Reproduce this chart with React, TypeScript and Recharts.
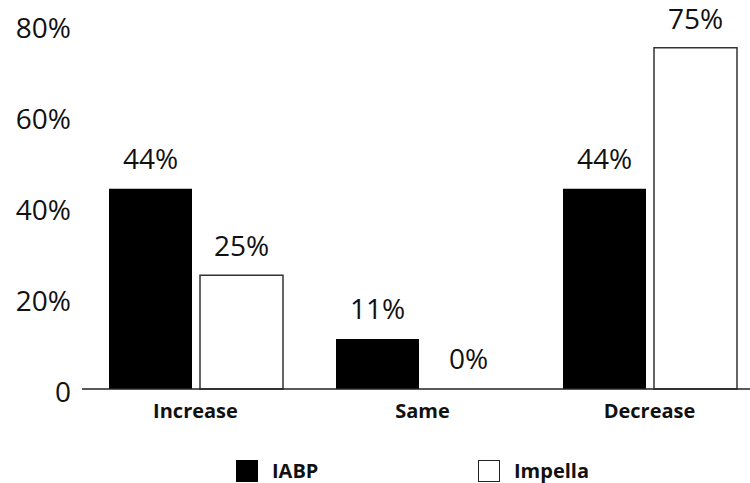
import { Bar, BarChart, LabelList, Rectangle, XAxis, YAxis } from "recharts";

const FONT = '"Open Sans", "Noto Sans", sans-serif';
const INK = "#111";

const categories = ["Increase", "Same", "Decrease"];
const iabp = [44, 11, 44];
const impella = [25, 0, 75];
const yTicks = [0, 20, 40, 60, 80];

const data = categories.map((c, i) => ({ label: c, iabp: iabp[i], impella: impella[i] }));

const legendItems = [
  { name: "IABP", fill: "#000", stroke: "#000", left: 236 },
  { name: "Impella", fill: "#fff", stroke: "#222", left: 478 },
];

const pct = (v: number) => `${v}%`;

// zero-value bars keep a 1px slot so the "0%" label is still placed, but draw nothing
function OpenBar(props: any) {
  if (!props.value) return <g />;
  return <Rectangle {...props} />;
}

export default function App() {
  return (
    <div
      style={{
        position: "absolute",
        left: 0,
        top: 0,
        width: 750,
        height: 483,
        background: "#fff",
        fontFamily: FONT,
      }}
    >
      <BarChart
        width={750}
        height={483}
        data={data}
        margin={{ top: 25, right: 0, bottom: 0, left: 0 }}
        barCategoryGap={27}
        barGap={8}
      >
        <XAxis
          dataKey="label"
          height={94}
          padding={{ left: 0, right: -13 }}
          axisLine={{ stroke: "#222", strokeWidth: 1.5 }}
          tickLine={false}
          tickMargin={9}
          tick={{ fontSize: 20, fontWeight: 700, fill: INK, fontFamily: FONT }}
        />
        <YAxis
          width={82}
          domain={[0, 80]}
          ticks={yTicks}
          axisLine={false}
          tickLine={false}
          tickMargin={5}
          tickFormatter={(v: number) => (v === 0 ? "0" : pct(v))}
          tick={{ fontSize: 28, fill: INK, fontFamily: FONT, dy: 3 }}
        />
        <Bar dataKey="iabp" name="IABP" fill="#000" isAnimationActive={false}>
          <LabelList
            dataKey="iabp"
            position="top"
            offset={20}
            formatter={pct}
            style={{ fontSize: 28, fill: INK, fontFamily: FONT }}
          />
        </Bar>
        <Bar
          dataKey="impella"
          name="Impella"
          fill="#fff"
          stroke="#333"
          strokeWidth={1.5}
          minPointSize={1}
          shape={OpenBar}
          isAnimationActive={false}
        >
          <LabelList
            dataKey="impella"
            position="top"
            offset={19}
            formatter={pct}
            style={{ fontSize: 28, fill: INK, fontFamily: FONT }}
          />
        </Bar>
      </BarChart>
      {legendItems.map((it) => (
        <div
          key={it.name}
          style={{
            position: "absolute",
            left: it.left,
            top: 460,
            display: "flex",
            alignItems: "center",
            fontSize: 20,
            fontWeight: 700,
            color: INK,
          }}
        >
          <span
            style={{
              display: "inline-block",
              width: 22,
              height: 22,
              background: it.fill,
              border: `1.5px solid ${it.stroke}`,
              boxSizing: "border-box",
              marginRight: 14,
            }}
          />
          <span style={{ lineHeight: "22px" }}>{it.name}</span>
        </div>
      ))}
    </div>
  );
}
